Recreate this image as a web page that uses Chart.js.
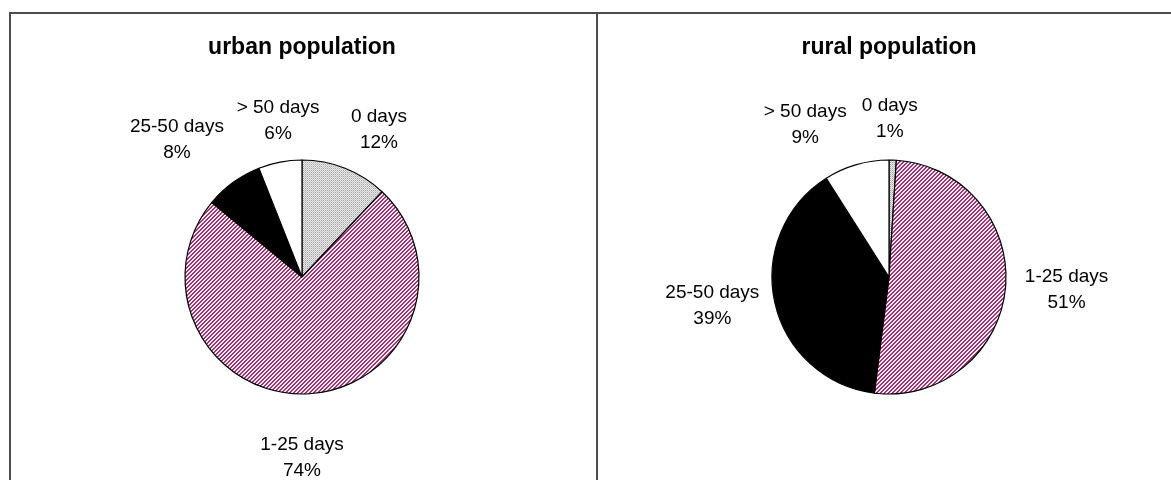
<!DOCTYPE html>
<html>
<head>
<meta charset="utf-8">
<script src="https://cdn.jsdelivr.net/npm/chart.js@4/dist/chart.umd.min.js"></script>
<style>
  html, body { margin: 0; padding: 0; background: #fff; }
  body { width: 1171px; height: 480px; overflow: hidden; position: relative; }
  .frame { position: absolute; left: 9px; top: 12px; width: 1200px; height: 500px;
           border-left: 2px solid #4d4d4d; border-top: 2px solid #4d4d4d; }
  .divider { position: absolute; left: 596px; top: 12px; width: 2px; height: 480px; background: #4d4d4d; }
  .panel { position: absolute; top: 14px; width: 585px; height: 466px; }
  #p1 { left: 11px; }
  #p2 { left: 598px; }
</style>
</head>
<body>
<div class="frame"></div>
<div class="divider"></div>
<div class="panel" id="p1"><canvas id="urban" width="585" height="466"></canvas></div>
<div class="panel" id="p2"><canvas id="rural" width="585" height="466"></canvas></div>
<script>
// Days categories and the share of each population group (percent)
const categories = ['0 days', '1-25 days', '25-50 days', '> 50 days'];
const urbanValues = [12, 74, 8, 6];
const ruralValues = [1, 51, 39, 9];
const titles = ['urban population', 'rural population'];

// Small repeating fills for the hatched slices
function makePattern(rows, palette) {
  const h = rows.length, w = rows[0].length;
  const c = document.createElement('canvas');
  c.width = w; c.height = h;
  const g = c.getContext('2d');
  for (let y = 0; y < h; y++) {
    for (let x = 0; x < w; x++) {
      g.fillStyle = palette[rows[y][x]];
      g.fillRect(x, y, 1, 1);
    }
  }
  return g.createPattern(c, 'repeat');
}

const dotted = makePattern(['ab', 'bc'], { a: '#a8a8a8', b: '#e8e8e8', c: '#c8c8c8' });
const zigzag = makePattern(['ppww', 'pwwp', 'wwpp', 'wppw'], { p: '#9a3a74', w: '#f6e4ef' });
const sliceFills = [dotted, zigzag, '#000000', '#ffffff'];

// Two-line "name / percent" labels placed just outside each slice
const sliceLabels = {
  id: 'sliceLabels',
  afterDatasetsDraw(chart, args, opts) {
    const ctx = chart.ctx;
    const meta = chart.getDatasetMeta(0);
    const values = chart.data.datasets[0].data;
    ctx.save();
    ctx.font = opts.font;
    ctx.fillStyle = '#000';
    ctx.textAlign = 'center';
    ctx.textBaseline = 'middle';
    meta.data.forEach((arc, i) => {
      const p = arc.getProps(['x', 'y', 'startAngle', 'endAngle', 'outerRadius'], true);
      const [extra, dDeg] = opts.place[i];
      const a = (p.startAngle + p.endAngle) / 2 + dDeg * Math.PI / 180;
      const d = p.outerRadius + extra;
      const cx = p.x + d * Math.cos(a);
      const cy = p.y + d * Math.sin(a);
      ctx.fillText(chart.data.labels[i], cx, cy - opts.lineGap / 2);
      ctx.fillText(values[i] + '%', cx, cy + opts.lineGap / 2);
    });
    ctx.restore();
  }
};

function buildPie(canvasId, title, values, place) {
  return new Chart(document.getElementById(canvasId), {
    type: 'pie',
    data: {
      labels: categories,
      datasets: [{
        data: values,
        backgroundColor: sliceFills,
        borderColor: '#000000',
        borderWidth: 1.2,
        hoverOffset: 0,
        radius: 117
      }]
    },
    options: {
      responsive: false,
      animation: false,
      events: [],
      layout: { padding: { top: 0, left: 0, right: 3, bottom: 80 } },
      plugins: {
        legend: { display: false },
        tooltip: { enabled: false },
        title: {
          display: true,
          text: title,
          color: '#000',
          font: { family: 'Liberation Sans, Arial, sans-serif', size: 23, weight: 'bold' },
          padding: { top: 20, bottom: 92.4 }
        },
        sliceLabels: {
          font: '19px "Liberation Sans", Arial, sans-serif',
          lineGap: 26,
          place: place
        }
      }
    },
    plugins: [sliceLabels]
  });
}

buildPie('urban', titles[0], urbanValues, [[49, 6], [64, 3.6], [68.5, -6.4], [41, 2.1]]);
buildPie('rural', titles[1], ruralValues, [[41, -1.5], [61, -1.4], [62, 3.3], [57, -12.6]]);
</script>
</body>
</html>
